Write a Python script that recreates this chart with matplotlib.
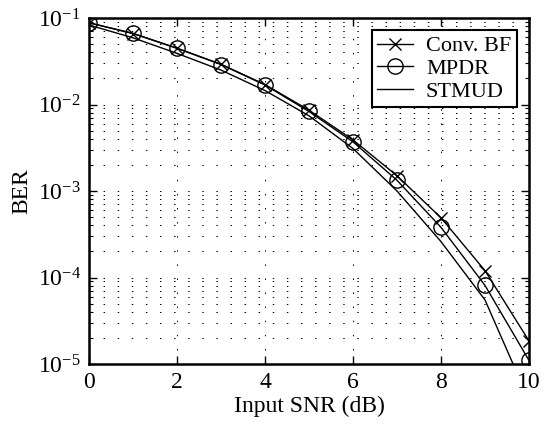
import matplotlib
matplotlib.use("Agg")
from matplotlib import pyplot as plt
from matplotlib.ticker import LogLocator, NullFormatter
import numpy as np

snr_db = [0, 1, 2, 3, 4, 5, 6, 7, 8, 9, 10]
ber_conv = [0.088, 0.066, 0.0448, 0.0292, 0.0170, 0.0086, 0.0039, 0.00150, 4.9e-4, 1.2e-4, 1.85e-5]
ber_mpdr = [0.088, 0.0665, 0.0446, 0.029, 0.0168, 0.0083, 0.0037, 0.00133, 3.8e-4, 8.1e-5, 1.1e-5]
ber_stmud = [0.083, 0.059, 0.039, 0.025, 0.0145, 0.0074, 0.0031, 0.00100, 2.6e-4, 5.5e-5, 3.8e-6]

plt.rcParams['font.family'] = ['Liberation Serif', 'DejaVu Serif']
plt.rcParams['mathtext.fontset'] = 'stix'

fig = plt.figure(figsize=(5.44, 4.33), dpi=100)
ax = fig.add_axes([89 / 544, 1 - 364 / 433, 440 / 544, 346 / 433])

lw = 1.0
ax.semilogy(snr_db, ber_conv, '-x', color='k', lw=lw, ms=9, mew=1.0, label='Conv. BF')
ax.semilogy(snr_db, ber_mpdr, '-o', color='k', lw=lw, ms=11, mew=1.0, mfc='none', label='MPDR')
ax.semilogy(snr_db, ber_stmud, '-', color='k', lw=lw, label='STMUD')

ax.set_xlim(0, 10)
ax.set_ylim(1e-5, 1e-1)
ax.set_xticks([0, 2, 4, 6, 8, 10])
ax.yaxis.set_major_locator(LogLocator(base=10, numticks=10))
ax.yaxis.set_minor_locator(LogLocator(base=10, subs=np.arange(2, 10), numticks=20))
ax.yaxis.set_minor_formatter(NullFormatter())

dots = (0, (1.5, 13))
ax.grid(True, which='major', linestyle=dots, color='k', lw=0.7)
ax.grid(True, which='minor', axis='y', linestyle=dots, color='k', lw=0.7)

ax.tick_params(which='both', direction='in', top=True, right=True, labelsize=17, pad=6)
ax.tick_params(which='major', length=6, width=1)
ax.tick_params(which='minor', length=3, width=0.8)
for s in ax.spines.values():
    s.set_linewidth(1.8)

ax.set_xlabel('Input SNR (dB)', fontsize=17, labelpad=2)
ax.set_ylabel('BER', fontsize=17, labelpad=4)

leg = ax.legend(loc='upper right', fontsize=16, frameon=True, fancybox=False,
                edgecolor='k', framealpha=1, borderpad=0.25, labelspacing=0.1,
                handlelength=1.6, handletextpad=0.6, borderaxespad=0.55)
leg.get_frame().set_linewidth(1.5)

fig.savefig('out.png', dpi=100)
